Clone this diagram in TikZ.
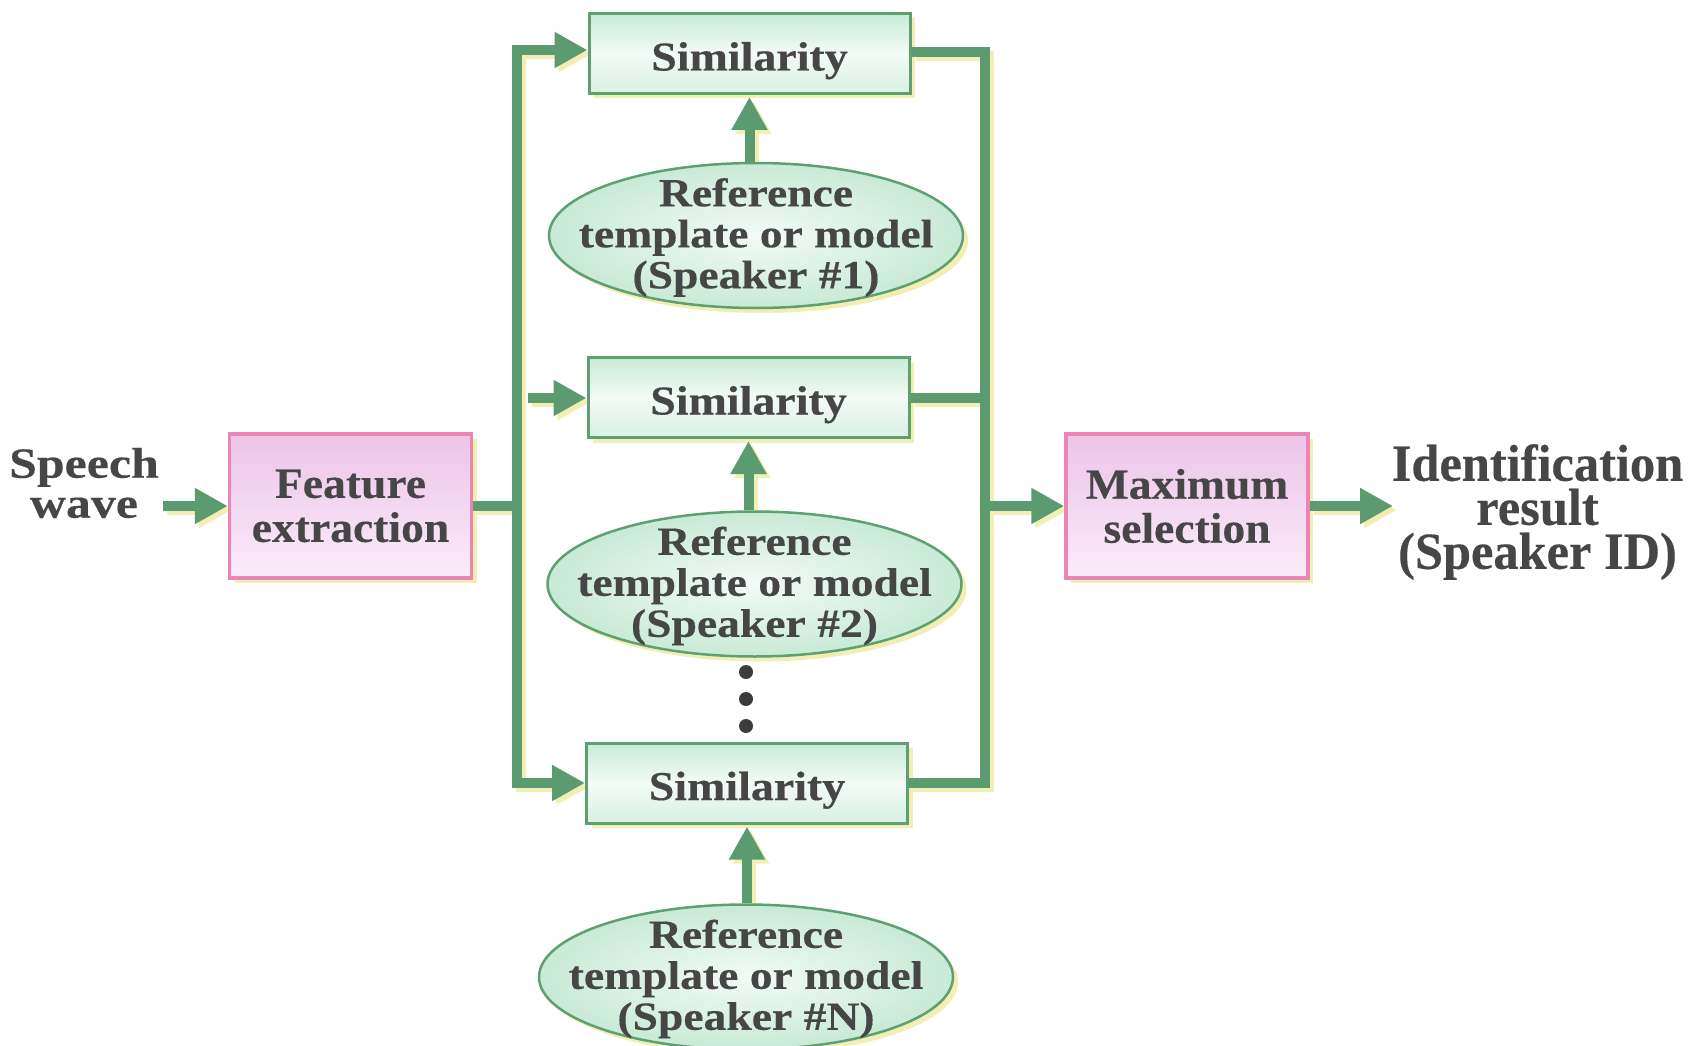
\documentclass[tikz,border=0pt]{standalone}
\usepackage{fontspec}
\setmainfont{Liberation Serif}
\newfontfamily\mainf{Liberation Serif}[FakeStretch=1.06, FakeBold=0.3]
\newfontfamily\simf{Liberation Serif}[FakeStretch=1.12, FakeBold=0.3]
\newfontfamily\reff{Liberation Serif}[FakeStretch=1.14, FakeBold=0.3]
\newfontfamily\spf{Liberation Serif}[FakeStretch=1.16, FakeBold=0.3]
\newfontfamily\idf{Liberation Serif}[FakeStretch=0.97, FakeBold=0.3]
\usetikzlibrary{arrows.meta,shadows,shapes.geometric}
\pgfdeclarelayer{back}
\pgfdeclarelayer{bg}
\pgfsetlayers{back,bg,main}
\definecolor{lgreen}{RGB}{92,155,112}
\definecolor{bgreen}{RGB}{95,160,115}
\definecolor{mint}{RGB}{200,234,214}
\definecolor{mintlight}{RGB}{243,251,247}
\definecolor{pinkb}{RGB}{236,132,182}
\definecolor{pinktop}{RGB}{236,196,232}
\definecolor{pinkbot}{RGB}{250,236,250}
\definecolor{shadowy}{RGB}{243,239,180}
\definecolor{txt}{RGB}{70,70,70}
\tikzset{
  shadowed/.style={drop shadow={shadow xshift=5pt, shadow yshift=-5pt, fill=shadowy, opacity=1}},
  simbox/.style={rectangle, draw=bgreen, line width=3pt, shadowed,
    top color=mint, bottom color=mint!70!white, middle color=mintlight,
    minimum width=321pt, minimum height=80pt, inner sep=0pt,
    text height=34pt, text depth=0pt, text=txt,
    font=\fontsize{41}{41}\selectfont\simf\bfseries},
  pinkbox/.style={rectangle, draw=pinkb, line width=3.5pt, shadowed,
    top color=pinktop, bottom color=pinkbot,
    minimum width=242pt, minimum height=144pt, inner sep=0pt, align=center, text=txt,
    font=\fontsize{43}{44}\selectfont\mainf\bfseries},
  refell/.style={ellipse, draw=bgreen, line width=2.5pt, shadowed,
    inner color=mintlight, outer color=mint,
    minimum width=414pt, minimum height=145pt, inner sep=0pt},
  reftext/.style={align=center, inner sep=0pt, text=txt,
    font=\fontsize{40}{41}\selectfont\reff\bfseries},
  plain/.style={align=center, inner sep=0pt, text=txt,
    font=\fontsize{43}{40}\selectfont\spf\bfseries},
  idtext/.style={align=center, inner sep=0pt, text=txt,
    font=\fontsize{52}{44}\selectfont\idf\bfseries},
  dot/.style={circle, fill=txt!85!black, minimum size=14pt, inner sep=0pt},
  tipE/.style={-{Triangle[length=33pt,width=34pt]}},
  tipB/.style={{Triangle[length=33pt,width=34pt]}-{Triangle[length=33pt,width=34pt]}},
  shadowline/.style={draw=shadowy, line width=10pt, line join=miter,
    transform canvas={shift={(4pt,-4pt)}}},
  greenline/.style={draw=lgreen, line width=10pt, line join=miter},
}
\newcommand\allconn{%
  \draw[cs, tipE] (SW) -- (FE.west);
  \draw[cs] (FE.east) -- (LJ);
  \draw[cs, tipB] (S1.west |- LT) -- (LT) -- (LB) -- (S3.west |- LB);
  \draw[cs, tipE] (M2) -- (S2.west |- M2);
  \draw[cs] (S1.east |- RT) -- (RT) -- (RB) -- (S3.east |- RB);
  \draw[cs] (S2.east) -- (S2.east -| RT);
  \draw[cs, tipE] (RJ) -- (MS.west);
  \draw[cs, tipE] (MS.east) -- (RE);
  \draw[cs, tipE] (E1.north -| S1.south) -- ([yshift=-2pt]S1.south);
  \draw[cs, tipE] (E2.north -| S2.south) -- ([yshift=-2pt]S2.south);
  \draw[cs, tipE] (E3.north -| S3.south) -- ([yshift=-2pt]S3.south);
}
\begin{document}
\begin{tikzpicture}[x=1pt, y=-1pt]
\clip (0,0) rectangle (1689,1046);
\begin{pgfonlayer}{back}
\fill[white] (0,0) rectangle (1689,1046);
\end{pgfonlayer}
\coordinate (LT) at (517,50);
\coordinate (LB) at (517,783);
\coordinate (LJ) at (517,506);
\coordinate (RT) at (985,52);
\coordinate (RB) at (985,783);
\coordinate (RJ) at (985,506);
\coordinate (M2) at (528,398);
\coordinate (SW) at (163,506);
\coordinate (RE) at (1393,506);
% nodes
\node[pinkbox] (FE) at (350.5,506) {Feature\\extraction};
\node[pinkbox] (MS) at (1187,506) {Maximum\\selection};
\node[simbox] (S1) at (749.5,53.5) {Similarity};
\node[simbox] (S2) at (748.5,397.5) {Similarity};
\node[simbox] (S3) at (747,783) {Similarity};
\node[refell] (E1) at (756,235.5) {};
\node[refell] (E2) at (754.5,584) {};
\node[refell] (E3) at (746,977) {};
\node[reftext] (T1) at ([yshift=-2pt]E1.center) {Reference\\template or model\\(Speaker \#1)};
\node[reftext] (T2) at ([yshift=-2pt]E2.center) {Reference\\template or model\\(Speaker \#2)};
\node[reftext] (T3) at ([yshift=-2pt]E3.center) {Reference\\template or model\\(Speaker \#N)};
\node[plain] (SPW) at (84,483) {Speech\\wave};
\node[idtext] (ID) at (1537.5,512) {Identification\\result\\(Speaker ID)};
\node[dot] (d1) at (746,672) {};
\node[dot] (d2) at (746,699) {};
\node[dot] (d3) at (746,726) {};
% connector shadows below the nodes
\begin{pgfonlayer}{bg}
\tikzset{cs/.style={shadowline}}
\allconn
\end{pgfonlayer}
% connectors
\tikzset{cs/.style={greenline}}
\allconn
\end{tikzpicture}
\end{document}
